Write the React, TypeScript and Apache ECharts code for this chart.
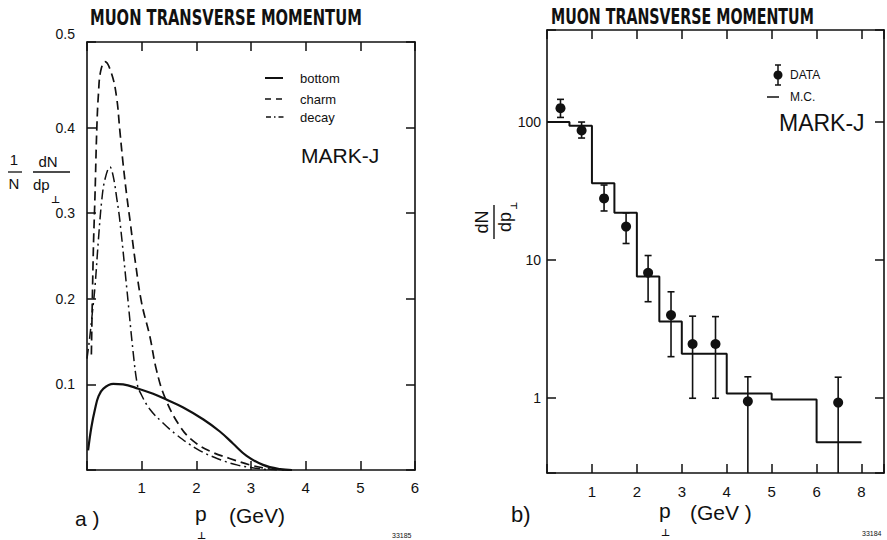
import React, { useEffect, useRef } from "react";
import * as echarts from "echarts";

const TITLE = "MUON TRANSVERSE MOMENTUM";

// ---------- Panel a) : 1/N dN/dp_T (linear) ----------
const aXMax = 6;
const aYMax = 0.5;
const legendNames = ["bottom", "charm", "decay"];
const bottomP = [0.02, 0.08, 0.15, 0.21, 0.3, 0.48, 0.66, 0.94, 1.21, 1.46, 1.76, 2.13, 2.43, 2.67, 2.92, 3.22, 3.53, 3.75];
const bottomV = [0.023, 0.05, 0.072, 0.086, 0.095, 0.1005, 0.1, 0.095, 0.089, 0.082, 0.073, 0.059, 0.045, 0.031, 0.0165, 0.006, 0.001, 0];
const charmP = [0.08, 0.115, 0.146, 0.18, 0.21, 0.25, 0.33, 0.45, 0.54, 0.6, 0.66, 0.73, 0.79, 0.88, 1.0, 1.15, 1.27, 1.43, 1.7, 1.94, 2.25, 2.61, 2.98, 3.35, 3.6];
const charmV = [0.135, 0.254, 0.32, 0.4, 0.44, 0.466, 0.477, 0.463, 0.436, 0.397, 0.358, 0.319, 0.29, 0.245, 0.195, 0.156, 0.117, 0.084, 0.051, 0.034, 0.022, 0.0135, 0.006, 0.001, 0];
const decayP = [0, 0.05, 0.1, 0.146, 0.21, 0.27, 0.33, 0.42, 0.48, 0.55, 0.6, 0.725, 0.847, 0.92, 0.97, 1.15, 1.39, 1.64, 2.0, 2.37, 2.74, 3.1, 3.35];
const decayV = [0.13, 0.155, 0.185, 0.214, 0.27, 0.315, 0.34, 0.354, 0.343, 0.315, 0.292, 0.214, 0.136, 0.1, 0.091, 0.071, 0.055, 0.041, 0.025, 0.0137, 0.006, 0.002, 0];

// ---------- Panel b) : dN/dp_T (log) ----------
const bXMax = 7.5;
const bXTickLabels = ["", "1", "2", "3", "4", "5", "6", "8"]; // tick positions 0..7
const bYMin = 0.2875;
const bYMax = 464;
const dataP = [0.3, 0.77, 1.27, 1.76, 2.25, 2.76, 3.24, 3.75, 4.47, 6.48];
const dataN = [126, 87, 28, 17.5, 8.1, 4.0, 2.47, 2.47, 0.95, 0.93];
const errHigh = [146, 100, 35, 22, 10.8, 5.9, 3.93, 3.9, 1.43, 1.42];
const errLow = [108, 76.6, 22.7, 13.2, 5.0, 2.0, 1.0, 1.0, 0, 0];
const mcEdges = [0, 0.5, 1, 1.5, 2, 2.5, 3, 4, 5, 6, 7];
const mcValues = [100, 94, 36, 22, 7.6, 3.6, 2.1, 1.08, 0.98, 0.48];

const FONT = "Liberation Sans";
const BLACK = "#111";

function measure(txt: string, font: string): number {
  const ctx = document.createElement("canvas").getContext("2d");
  if (!ctx) return 0;
  ctx.font = font;
  return ctx.measureText(txt).width;
}

function txt(text: string, x: number, y: number, size: number, extra: any = {}) {
  return {
    type: "text",
    x,
    y,
    silent: true,
    style: {
      text,
      fill: BLACK,
      fontFamily: extra.family || FONT,
      fontSize: size,
      textAlign: extra.align || "left",
      verticalAlign: extra.valign || "middle",
      fontWeight: extra.weight || "normal",
    },
  };
}

function seg(x1: number, y1: number, x2: number, y2: number, w = 1.5, dash: any = null) {
  return {
    type: "line",
    silent: true,
    shape: { x1, y1, x2, y2 },
    style: { stroke: BLACK, lineWidth: w, lineDash: dash },
  };
}

export default function App() {
  const ref = useRef<HTMLDivElement>(null);
  useEffect(() => {
    if (!ref.current) return;
    const chart = echarts.init(ref.current, null, { renderer: "svg" });

    const titleFamily = "DejaVu Sans Condensed";
    const titleSize = 22;
    const tw = measure(TITLE, `bold ${titleSize}px "${titleFamily}"`) || 300;

    const lineStyle = { color: BLACK, width: 1.6 };
    const axLine = { show: true, onZero: false, lineStyle };
    const tick = { show: true, inside: true, length: 9, lineStyle: { color: BLACK, width: 1.5 } };
    const yFmtA = (v: number) => (v > 0.001 && v < aYMax - 0.001 ? v.toFixed(1) : "");
    const xFmtA = (v: number) => (v > 0.5 && Math.abs(v - Math.round(v)) < 1e-6 ? String(Math.round(v)) : "");
    const xFmtB = (v: number) => {
      const i = Math.round(v);
      if (Math.abs(v - i) > 1e-6) return "";
      return bXTickLabels[i] || "";
    };
    const yFmtB = (v: number) => {
      const l = Math.log10(v);
      return Math.abs(l - Math.round(l)) < 1e-6 ? String(Math.round(v)) : "";
    };

    const zip = (a: number[], b: number[]) => a.map((x, i) => [x, b[i]]);

    const errData = dataP.map((p, i) => [p, errHigh[i], Math.max(errLow[i], bYMin)]);
    const mcData = mcEdges.map((e, i) => [e, mcValues[Math.min(i, mcValues.length - 1)]]);

    const option: any = {
      animation: false,
      grid: [
        { left: 87, top: 42, width: 328, height: 428, show: false },
        { left: 547, top: 30, width: 343, height: 443, show: false },
      ],
      xAxis: [
        {
          gridIndex: 0, type: "value", min: 0, max: aXMax, interval: 1, position: "bottom",
          axisLine: axLine, splitLine: { show: false }, axisTick: tick,
          axisLabel: { formatter: xFmtA, fontFamily: FONT, fontSize: 15, color: BLACK, margin: 10 },
        },
        {
          gridIndex: 0, type: "value", min: 0, max: aXMax, interval: 1, position: "top",
          axisLine: axLine, splitLine: { show: false }, axisTick: tick,
          axisLabel: { show: false },
        },
        {
          gridIndex: 1, type: "value", min: 0, max: bXMax, interval: 1, position: "bottom",
          axisLine: axLine, splitLine: { show: false }, axisTick: tick,
          axisLabel: { formatter: xFmtB, fontFamily: FONT, fontSize: 15, color: BLACK, margin: 11 },
        },
        {
          gridIndex: 1, type: "value", min: 0, max: bXMax, interval: 1, position: "top",
          axisLine: axLine, splitLine: { show: false }, axisTick: tick,
          axisLabel: { show: false },
        },
      ],
      yAxis: [
        {
          gridIndex: 0, type: "value", min: 0, max: aYMax, interval: 0.1, position: "left",
          axisLine: axLine, splitLine: { show: false }, axisTick: tick,
          axisLabel: { formatter: yFmtA, fontFamily: FONT, fontSize: 14, color: BLACK, margin: 12 },
        },
        {
          gridIndex: 0, type: "value", min: 0, max: aYMax, interval: 0.1, position: "right",
          axisLine: axLine, splitLine: { show: false }, axisTick: tick,
          axisLabel: { show: false },
        },
        {
          gridIndex: 1, type: "log", logBase: 10, min: bYMin, max: bYMax, position: "left",
          axisLine: axLine, splitLine: { show: false }, minorTick: { show: false }, axisTick: tick,
          axisLabel: { formatter: yFmtB, fontFamily: FONT, fontSize: 14, color: BLACK, margin: 6 },
        },
        {
          gridIndex: 1, type: "log", logBase: 10, min: bYMin, max: bYMax, position: "right",
          axisLine: axLine, splitLine: { show: false }, axisTick: tick,
          axisLabel: { show: false },
        },
      ],
      series: [
        {
          name: legendNames[0], type: "line", xAxisIndex: 0, yAxisIndex: 0,
          data: zip(bottomP, bottomV), smooth: 0.4, showSymbol: false, symbol: "none",
          lineStyle: { color: BLACK, width: 2.2 },
        },
        {
          name: legendNames[1], type: "line", xAxisIndex: 0, yAxisIndex: 0,
          data: zip(charmP, charmV), smooth: 0.4, showSymbol: false, symbol: "none",
          lineStyle: { color: BLACK, width: 1.7, type: [9, 5] },
        },
        {
          name: legendNames[2], type: "line", xAxisIndex: 0, yAxisIndex: 0,
          data: zip(decayP, decayV), smooth: 0.4, showSymbol: false, symbol: "none",
          lineStyle: { color: BLACK, width: 1.5, type: [10, 4, 2, 4] },
        },
        {
          name: "M.C.", type: "line", xAxisIndex: 2, yAxisIndex: 2, step: "end",
          data: mcData, showSymbol: false, symbol: "none",
          lineStyle: { color: BLACK, width: 2 },
        },
        {
          name: "errors", type: "custom", xAxisIndex: 2, yAxisIndex: 2,
          data: errData,
          encode: { x: 0, y: [1, 2] },
          renderItem: (params: any, api: any) => {
            const x = api.value(0);
            const hi = api.value(1);
            const lo = api.value(2);
            const pTop = api.coord([x, hi]);
            const pBot = api.coord([x, lo]);
            const children: any[] = [
              { type: "line", shape: { x1: pTop[0], y1: pTop[1], x2: pTop[0], y2: pBot[1] }, style: { stroke: BLACK, lineWidth: 1.6 } },
              { type: "line", shape: { x1: pTop[0] - 3.5, y1: pTop[1], x2: pTop[0] + 3.5, y2: pTop[1] }, style: { stroke: BLACK, lineWidth: 1.6 } },
            ];
            if (lo > bYMin * 1.001) {
              children.push({ type: "line", shape: { x1: pBot[0] - 3.5, y1: pBot[1], x2: pBot[0] + 3.5, y2: pBot[1] }, style: { stroke: BLACK, lineWidth: 1.6 } });
            }
            return { type: "group", children };
          },
        },
        {
          name: "DATA", type: "scatter", xAxisIndex: 2, yAxisIndex: 2,
          data: zip(dataP, dataN), symbol: "circle", symbolSize: 10,
          itemStyle: { color: BLACK, opacity: 1 },
        },
      ],
      graphic: [
        // titles
        {
          type: "text", x: 90, y: 18, scaleX: 272 / tw, silent: true,
          style: { text: TITLE, fill: BLACK, fontFamily: titleFamily, fontWeight: "bold", fontSize: titleSize, textAlign: "left", verticalAlign: "middle" },
        },
        {
          type: "text", x: 551, y: 17, scaleX: 263 / tw, silent: true,
          style: { text: TITLE, fill: BLACK, fontFamily: titleFamily, fontWeight: "bold", fontSize: titleSize, textAlign: "left", verticalAlign: "middle" },
        },
        // top label of panel a (drawn slightly above the frame, as in the original)
        txt("0.5", 75, 34, 14, { align: "right" }),
        // panel a legend
        seg(265, 78, 283, 78, 2),
        seg(265, 99, 284, 99, 1.6, [6, 5]),
        seg(266, 117, 284, 117, 1.4, [5, 3, 1.5, 3]),
        txt(legendNames[0], 300, 78, 13),
        txt(legendNames[1], 300, 99, 13),
        txt(legendNames[2], 300, 117, 13),
        txt("MARK-J", 301, 155, 21),
        // panel a y label
        txt("1", 14, 159, 15, { align: "center" }),
        seg(8, 172, 22, 172, 1.3),
        txt("N", 14, 183, 15, { align: "center" }),
        txt("dN", 48, 161, 15, { align: "center" }),
        seg(33, 172, 70, 172, 1.3),
        txt("dp", 33, 184, 15),
        txt("⊥", 51, 199, 10, { family: "DejaVu Sans", weight: "bold" }),
        // panel a x label
        txt("a )", 75, 518, 21),
        txt("p", 195, 513, 21),
        txt("⊥", 197, 530, 10, { family: "DejaVu Sans", weight: "bold", valign: "top" }),
        txt("(GeV)", 229, 515, 21),
        txt("33185", 392, 535, 7),
        // panel b legend
        { type: "circle", silent: true, shape: { cx: 778, cy: 75, r: 4.5 }, style: { fill: BLACK } },
        seg(778, 65, 778, 85, 1.5),
        seg(775, 65, 781, 65, 1.5),
        seg(775, 85, 781, 85, 1.5),
        txt("DATA", 790, 75, 12),
        seg(767, 97, 779, 97, 1.5),
        txt("M.C.", 790, 97, 12),
        txt("MARK-J", 779, 123, 23),
        // panel b y label (rotated)
        {
          type: "group", x: 494, y: 222, rotation: Math.PI / 2, silent: true,
          children: [
            txt("dN", 0, -12, 18, { align: "center" }),
            seg(-17, 0, 17, 0, 1.4),
            txt("dp", 0, 11, 18, { align: "center" }),
            txt("⊥", 12, 20, 9, { family: "DejaVu Sans", weight: "bold" }),
          ],
        },
        // panel b x label
        txt("b)", 511, 514, 22),
        txt("p", 659, 510, 21),
        txt("⊥", 661, 527, 10, { family: "DejaVu Sans", weight: "bold", valign: "top" }),
        txt("(GeV )", 690, 512, 21),
        txt("33184", 862, 533, 7),
      ],
    };

    chart.setOption(option);
    return () => chart.dispose();
  }, []);

  return (
    <div
      ref={ref}
      style={{ position: "fixed", left: 0, top: 0, width: 887, height: 540, background: "#fff" }}
    />
  );
}
